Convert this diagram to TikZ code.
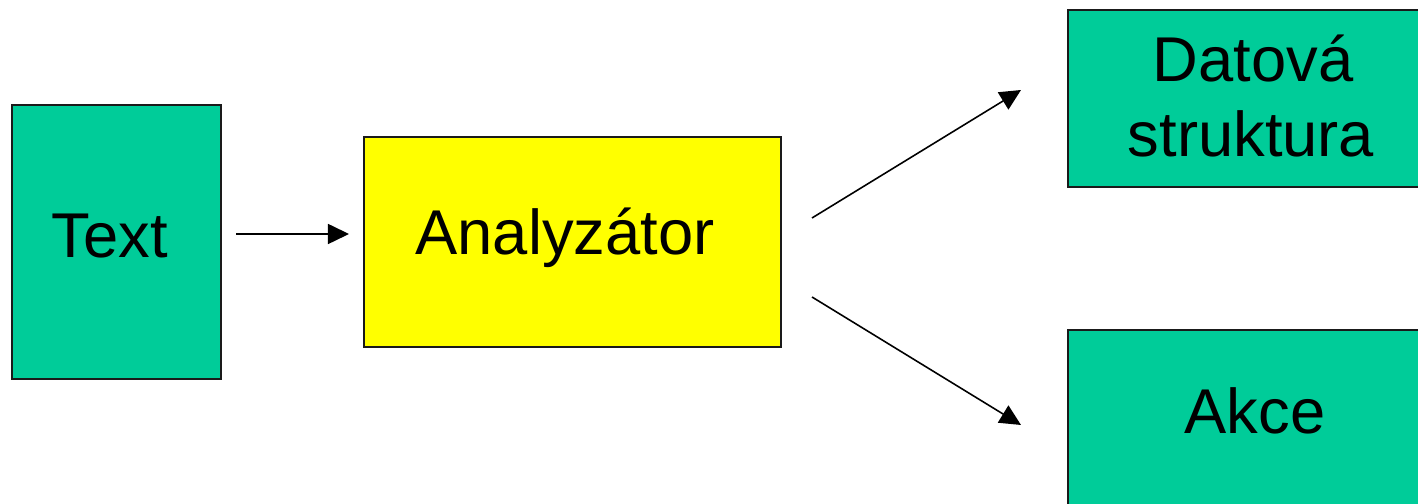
\documentclass[tikz,border=0pt]{standalone}
\usepackage{fontspec}
\setmainfont{Liberation Sans}
\usetikzlibrary{arrows.meta}
\definecolor{boxgreen}{HTML}{00CC99}
\definecolor{boxyellow}{HTML}{FFFF00}
\definecolor{edge}{HTML}{1A1A1A}
\tikzset{
  block/.style={draw=edge, line width=0.45pt, inner sep=0pt, outer sep=0pt},
  greenblock/.style={block, fill=boxgreen},
  yellowblock/.style={block, fill=boxyellow},
  label text/.style={anchor=base, inner sep=0pt, font=\fontsize{18}{21.3}\selectfont},
  flow/.style={line width=0.45pt, -{Triangle[length=0.21cm, width=0.2cm]}}
}
\begin{document}
\begin{tikzpicture}[x=0.01cm, y=-0.01cm]
  \useasboundingbox (0,0) rectangle (1418,504);
  \clip (0,0) rectangle (1418,504);

  % blocks
  \node[greenblock, minimum width=2.09cm, minimum height=2.74cm] (txt) at (116.5,242) {};
  \node[yellowblock, minimum width=4.17cm, minimum height=2.10cm] (ana) at (572.5,242) {};
  \node[greenblock, minimum width=3.68cm, minimum height=1.77cm] (dat) at (1252,98.5) {};
  \node[greenblock, minimum width=3.68cm, minimum height=1.90cm] (akc) at (1252,425) {};

  % captions
  \node[label text] (txtlabel) at (110,258) {Text};
  \node[label text] (analabel) at (565,255) {Analyzátor};
  \node[label text] (datlabelA) at (1253,82) {Datová};
  \node[label text] (datlabelB) at (1251,157) {struktura};
  \node[label text] (akclabel) at (1255,434) {Akce};

  % arrow ends
  \coordinate (inS) at (236,234);
  \coordinate (inE) at (349,234);
  \coordinate (upS) at (812,218);
  \coordinate (upE) at (1021,90);
  \coordinate (dnS) at (812,297);
  \coordinate (dnE) at (1021,425);

  % flow arrows
  \draw[flow] (inS) -- (inE);
  \draw[flow] (upS) -- (upE);
  \draw[flow] (dnS) -- (dnE);
\end{tikzpicture}
\end{document}
